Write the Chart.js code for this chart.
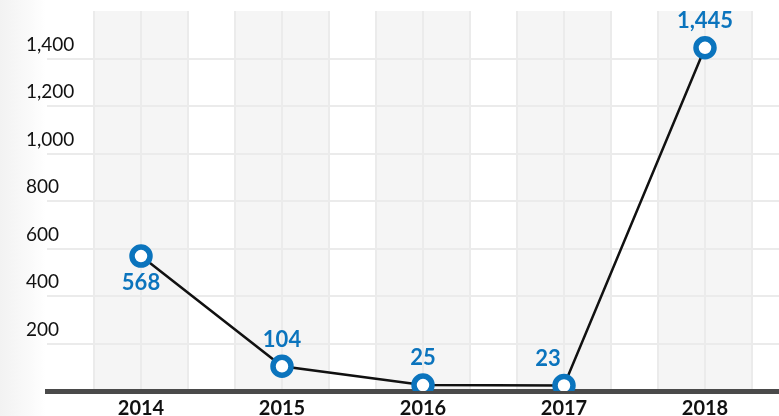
<!DOCTYPE html>
<html>
<head>
<meta charset="utf-8">
<script src="https://cdn.jsdelivr.net/npm/chart.js@4/dist/chart.umd.min.js"></script>
<style>
  html, body { margin: 0; padding: 0; }
  body {
    width: 779px; height: 416px; overflow: hidden;
    background: linear-gradient(90deg, #f2f2f2 0px, #fafafa 30px, #ffffff 46px);
  }
  canvas { display: block; }
</style>
</head>
<body>
<canvas id="chart" width="779" height="416"></canvas>
<script>
// data
const years = [2014, 2015, 2016, 2017, 2018];
const counts = [568, 104, 25, 23, 1445];
const yTicks = [200, 400, 600, 800, 1000, 1200, 1400];

const blue = '#0b74bd';
const gridColor = '#ebebeb';
const bandColor = '#f5f5f5';

// gray column bands + vertical grid lines behind everything
const bandsPlugin = {
  id: 'bands',
  beforeDraw(chart) {
    const { ctx, chartArea } = chart;
    const x = chart.scales.x;
    ctx.save();
    years.forEach(yr => {
      const l = x.getPixelForValue(yr - 1 / 3);
      const r = x.getPixelForValue(yr + 1 / 3);
      ctx.fillStyle = bandColor;
      ctx.fillRect(l, chartArea.top, r - l, chartArea.bottom - chartArea.top);
      ctx.strokeStyle = gridColor;
      ctx.lineWidth = 2;
      [yr - 1 / 3, yr, yr + 1 / 3].forEach(v => {
        const px = Math.round(x.getPixelForValue(v));
        ctx.beginPath();
        ctx.moveTo(px, chartArea.top);
        ctx.lineTo(px, chartArea.bottom);
        ctx.stroke();
      });
    });
    ctx.restore();
  }
};

// value labels next to each point
const labelsPlugin = {
  id: 'valueLabels',
  afterDatasetsDraw(chart) {
    const { ctx } = chart;
    const meta = chart.getDatasetMeta(0);
    // dx, dy per point
    const offs = [[0, 27], [0, -26], [0, -27], [-16, -27], [0, -27]];
    ctx.save();
    ctx.font = 'bold 22px Lato';
    ctx.fillStyle = blue;
    ctx.textAlign = 'center';
    ctx.textBaseline = 'middle';
    meta.data.forEach((pt, i) => {
      ctx.fillText(counts[i].toLocaleString('en-US'), pt.x + offs[i][0], pt.y + offs[i][1]);
    });
    ctx.restore();
  }
};

const ctx = document.getElementById('chart').getContext('2d');
new Chart(ctx, {
  type: 'line',
  data: {
    datasets: [{
      data: years.map((yr, i) => ({ x: yr, y: counts[i] })),
      borderColor: '#111',
      borderWidth: 2.5,
      tension: 0,
      pointRadius: 9,
      pointHoverRadius: 9,
      pointBorderWidth: 5.5,
      pointBackgroundColor: '#fff',
      pointBorderColor: blue
    }]
  },
  options: {
    responsive: false,
    animation: false,
    devicePixelRatio: 1,
    layout: { autoPadding: false, padding: { left: 26, top: 11, right: 0, bottom: 0 } },
    plugins: {
      legend: { display: false },
      tooltip: { enabled: false }
    },
    scales: {
      x: {
        type: 'linear',
        min: 2013 + 1 / 3,
        max: 2013 + 1 / 3 + 732 / 141,
        afterBuildTicks: s => { s.ticks = years.map(v => ({ value: v })); },
        afterFit: s => { s.height = 25; s.paddingLeft = 0; s.paddingRight = 0; },
        grid: { display: false, drawTicks: false },
        border: { display: true, color: '#4a4a4a', width: 5 },
        ticks: {
          padding: 6,
          color: '#111',
          font: { family: 'Lato', size: 20, weight: 'bold' },
          callback: v => String(v),
          maxRotation: 0,
          autoSkip: false
        }
      },
      y: {
        min: 0,
        max: 1600,
        afterBuildTicks: s => { s.ticks = [0].concat(yTicks, [1600]).map(v => ({ value: v })); },
        afterFit: s => { s.width = 21; s.paddingTop = 0; s.paddingBottom = 0; },
        grid: { color: gridColor, lineWidth: 2, drawTicks: false },
        border: { display: false },
        ticks: {
          mirror: true,
          padding: -21,
          labelOffset: -14,
          color: '#111',
          font: { family: 'Lato', size: 19 },
          callback: v => yTicks.includes(v) ? v.toLocaleString('en-US') : null
        }
      }
    }
  },
  plugins: [bandsPlugin, labelsPlugin]
});
</script>
</body>
</html>
